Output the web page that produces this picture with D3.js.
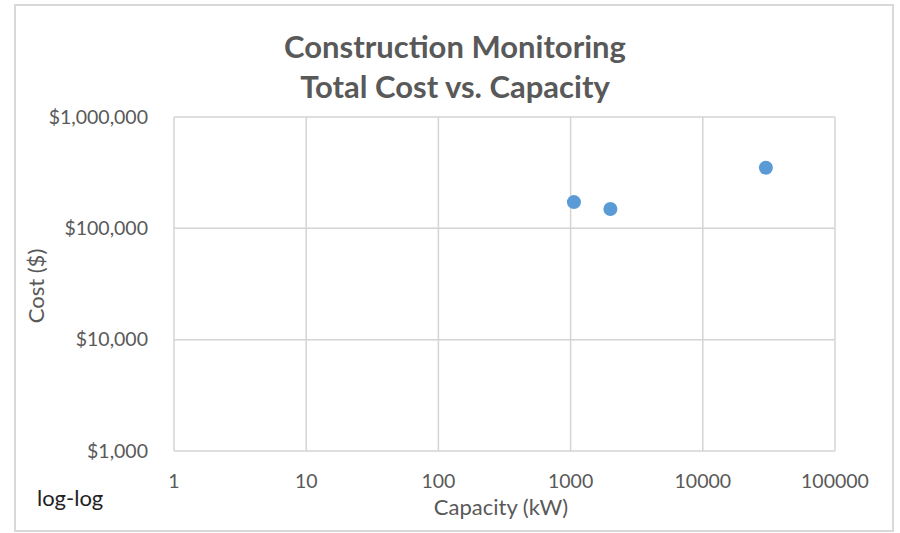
<!DOCTYPE html>
<html lang="en">
<head>
	<meta charset="UTF-8">
	<title>Construction Monitoring</title>
	<script src="https://d3js.org/d3.v7.min.js"></script>
	<style>
		body, html {
			margin: 0;
			padding: 0;
			background: #fff;
			overflow: hidden;
		}
		svg {
			display: block;
			font-family: Lato, "Open Sans", sans-serif;
		}
		.grid line {
			stroke: #d4d4d4;
			stroke-width: 1.5;
		}
		.tick-label {
			fill: #595959;
			font-size: 19.5px;
		}
		.axis-title {
			fill: #595959;
			font-size: 22px;
		}
	</style>
</head>
<body>
<div id="chart"></div>
	<script>
		// Data
		const capacity = [1060, 2000, 30000];      // kW
		const cost = [172000, 149000, 350000];     // $
		const xTicks = [1, 10, 100, 1000, 10000, 100000];
		const yTicks = [1000, 10000, 100000, 1000000];
		const titleLines = ["Construction Monitoring", "Total Cost vs. Capacity"];

		const width = 900;
		const height = 533;
		const plot = { left: 174, right: 835, top: 117, bottom: 451 };

		const svg = d3.select("#chart")
			.append("svg")
			.attr("width", width)
			.attr("height", height);

		// chart border
		svg.append("rect")
			.attr("x", 15)
			.attr("y", 5)
			.attr("width", 878)
			.attr("height", 526)
			.attr("fill", "#fff")
			.attr("stroke", "#d9d9d9")
			.attr("stroke-width", 2);

		const x = d3.scaleLog().domain([1, 100000]).range([plot.left, plot.right]);
		const y = d3.scaleLog().domain([1000, 1000000]).range([plot.bottom, plot.top]);

		// gridlines
		const grid = svg.append("g").attr("class", "grid");
		grid.selectAll(".vx")
			.data(xTicks)
			.enter()
			.append("line")
			.attr("x1", d => x(d))
			.attr("x2", d => x(d))
			.attr("y1", plot.top)
			.attr("y2", plot.bottom);
		grid.selectAll(".hy")
			.data(yTicks)
			.enter()
			.append("line")
			.attr("x1", plot.left)
			.attr("x2", plot.right)
			.attr("y1", d => y(d))
			.attr("y2", d => y(d));

		// tick labels
		const money = d3.format("$,");
		svg.selectAll(".ylab")
			.data(yTicks)
			.enter()
			.append("text")
			.attr("class", "tick-label")
			.attr("x", 148)
			.attr("y", d => y(d))
			.attr("dy", "0.35em")
			.attr("text-anchor", "end")
			.text(d => money(d));

		svg.selectAll(".xlab")
			.data(xTicks)
			.enter()
			.append("text")
			.attr("class", "tick-label")
			.attr("x", d => x(d))
			.attr("y", 481)
			.attr("dy", "0.35em")
			.attr("text-anchor", "middle")
			.text(d => String(d));

		// axis titles
		svg.append("text")
			.attr("class", "axis-title")
			.attr("x", 501)
			.attr("y", 507)
			.attr("dy", "0.35em")
			.attr("text-anchor", "middle")
			.text("Capacity (kW)");

		svg.append("text")
			.attr("class", "axis-title")
			.attr("transform", "translate(36,286) rotate(-90)")
			.attr("dy", "0.35em")
			.attr("text-anchor", "middle")
			.text("Cost ($)");

		// title
		svg.selectAll(".title")
			.data(titleLines)
			.enter()
			.append("text")
			.attr("x", 455)
			.attr("y", (d, i) => 47 + i * 40)
			.attr("dy", "0.35em")
			.attr("text-anchor", "middle")
			.attr("fill", "#595959")
			.attr("font-size", 31)
			.attr("font-weight", "bold")
			.text(d => d);

		svg.append("text")
			.attr("x", 37)
			.attr("y", 498)
			.attr("dy", "0.35em")
			.attr("fill", "#222")
			.attr("font-size", 22)
			.text("log-log");

		// points
		svg.selectAll(".dot")
			.data(capacity.map((c, i) => ({ c: c, v: cost[i] })))
			.enter()
			.append("circle")
			.attr("cx", d => x(d.c))
			.attr("cy", d => y(d.v))
			.attr("r", 7)
			.attr("fill", "#5b9bd5");
	</script>
</body>
</html>
